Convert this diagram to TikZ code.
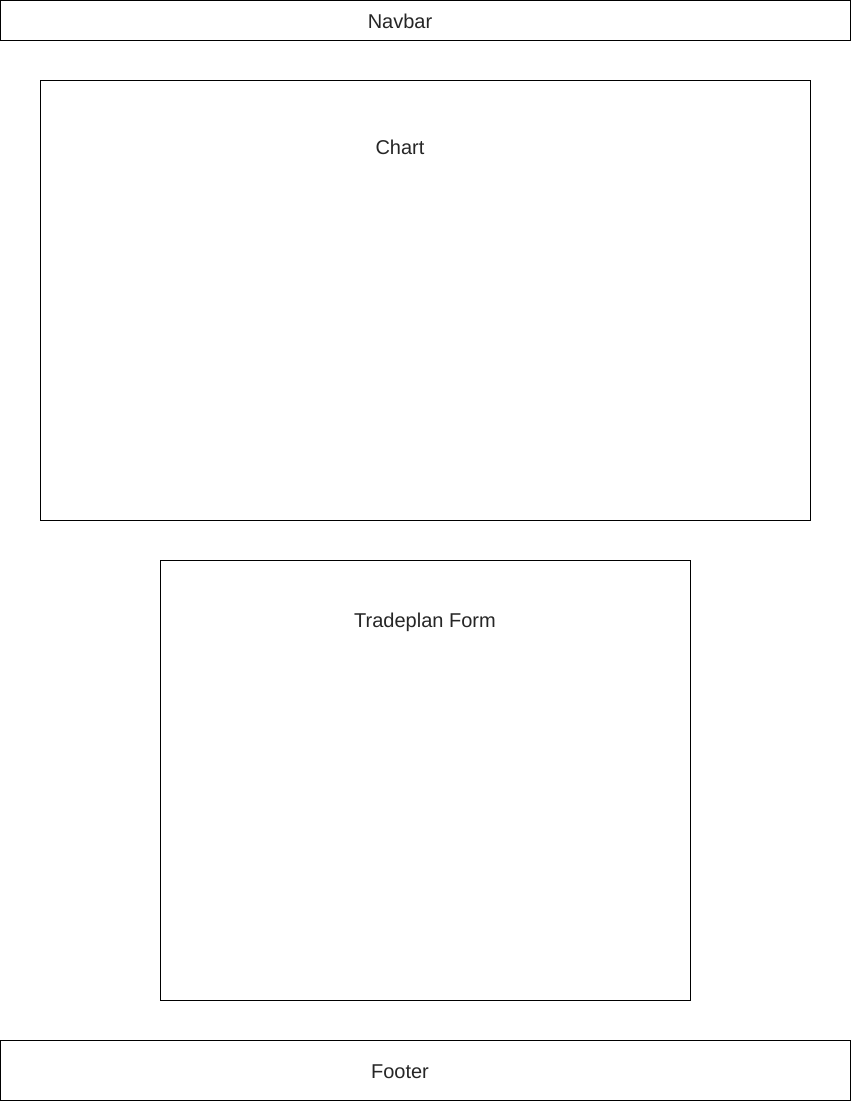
\documentclass[tikz,border=0pt]{standalone}
\usepackage{fontspec}
\setmainfont{Liberation Sans}
\usetikzlibrary{positioning}

\begin{document}
\begin{tikzpicture}[x=0.75pt,y=-0.75pt,
    panel/.style={draw=black,line width=0.75pt,fill=white,inner sep=0pt},
    caption/.style={text=black!85,font=\fontsize{15}{18}\selectfont,inner sep=0pt}]

       \useasboundingbox (0,0) rectangle (851,1101);

       % page regions
       \node[panel,minimum width=637.5pt,minimum height=30pt]   (navbar) at (425,20)   {};
       \node[panel,minimum width=577.5pt,minimum height=330pt]  (chart)  at (425,300)  {};
       \node[panel,minimum width=397.5pt,minimum height=330pt]  (form)   at (425,780)  {};
       \node[panel,minimum width=637.5pt,minimum height=45pt]   (footer) at (425,1070) {};

       % captions
       \node[caption] (navbarlabel) at (400,21)   {Navbar};
       \node[caption] (chartlabel)  at (400,147)  {Chart};
       \node[caption] (formlabel)   at (425,622)  {Tradeplan Form};
       \node[caption] (footerlabel) at (400,1072) {Footer};
     \end{tikzpicture}
\end{document}
